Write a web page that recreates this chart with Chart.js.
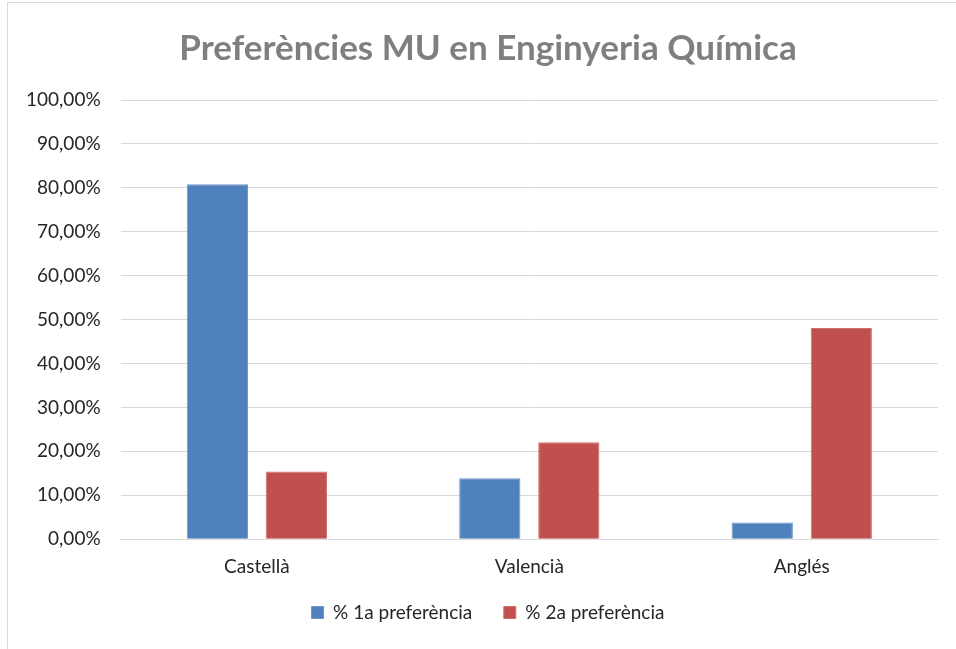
<!DOCTYPE html>
<html>
<head>
<meta charset="utf-8">
<script src="https://cdn.jsdelivr.net/npm/chart.js@4"></script>
<style>
  html, body { margin: 0; padding: 0; background: #fff; overflow: hidden; }
  #frame { position: absolute; left: 7px; top: 2px; width: 1000px; height: 700px; border: 1px solid #d9d9d9; }
  #wrap { position: absolute; left: 0; top: 0; width: 970px; height: 649px; }
</style>
</head>
<body>
<div id="frame"></div>
<div id="wrap"><canvas id="chart"></canvas></div>
<script>
const categories = ['Castellà', 'Valencià', 'Anglés'];
const seriesNames = ['% 1a preferència', '% 2a preferència'];
const firstPref = [80.8, 13.9, 3.8];
const secondPref = [15.4, 22.1, 48.1];
const yTicks = [0, 10, 20, 30, 40, 50, 60, 70, 80, 90, 100];

const fontFamily = 'Lato, "Open Sans", sans-serif';

new Chart(document.getElementById('chart').getContext('2d'), {
    type: 'bar',
    data: {
        labels: categories,
        datasets: [
            {
                label: seriesNames[0],
                data: firstPref,
                backgroundColor: '#4f81bd',
                borderColor: '#6f97c9',
                borderWidth: 1,
            },
            {
                label: seriesNames[1],
                data: secondPref,
                backgroundColor: '#c0504d',
                borderColor: '#cd716e',
                borderWidth: 1,
            },
        ],
    },
    options: {
        responsive: true,
        maintainAspectRatio: false,
        animation: false,
        categoryPercentage: 0.58,
        barPercentage: 0.775,
        layout: { padding: { left: 6, right: 0, top: 0, bottom: 17 } },
        plugins: {
            title: {
                display: true,
                text: 'Preferències MU en Enginyeria Química',
                color: '#7f7f7f',
                font: { family: fontFamily, size: 35, weight: 'bold' },
                padding: { top: 28, bottom: 30 },
            },
            legend: {
                position: 'bottom',
                labels: {
                    color: '#262626',
                    font: { family: fontFamily, size: 19 },
                    boxWidth: 12,
                    boxHeight: 12,
                    padding: 17,
                    generateLabels: (chart) => {
                        const items = Chart.defaults.plugins.legend.labels.generateLabels(chart);
                        items[0].text = items[0].text + '   ';
                        return items;
                    },
                },
            },
            tooltip: { enabled: false },
        },
        scales: {
            y: {
                min: 0,
                max: 100,
                afterBuildTicks: (axis) => { axis.ticks = yTicks.map((v) => ({ value: v })); },
                border: { display: false },
                grid: { color: '#d9d9d9', lineWidth: 1, drawTicks: false },
                ticks: {
                    color: '#262626',
                    padding: 20,
                    font: { family: fontFamily, size: 19 },
                    callback: (v) => v.toFixed(2).replace('.', ',') + '%',
                },
            },
            // empty right-hand axis: keeps the plot inside the cropped frame
            yRight: {
                position: 'right',
                display: true,
                grid: { display: false },
                border: { display: false },
                ticks: { display: false },
                afterFit: (scale) => { scale.width = 32; },
            },
            x: {
                border: { display: true, color: '#d9d9d9' },
                grid: { display: false },
                ticks: {
                    color: '#262626',
                    padding: 8,
                    font: { family: fontFamily, size: 19 },
                },
            },
        },
    },
});
</script>
</body>
</html>
